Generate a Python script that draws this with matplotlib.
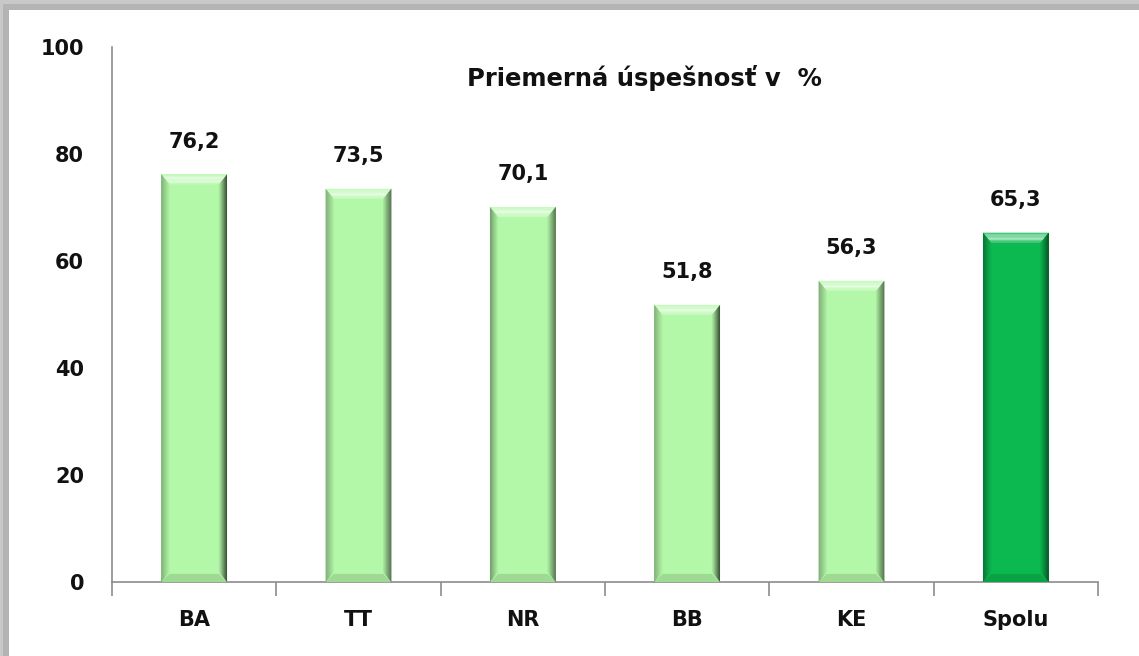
import matplotlib
matplotlib.use('Agg')
import matplotlib.pyplot as plt
from matplotlib.patches import Polygon, Rectangle
import numpy as np

plt.rcParams['font.family'] = ['DejaVu Sans']

# data
categories = ['BA', 'TT', 'NR', 'BB', 'KE', 'Spolu']
values = [76.2, 73.5, 70.1, 51.8, 56.3, 65.3]
labels = ['76,2', '73,5', '70,1', '51,8', '56,3', '65,3']
title = 'Priemerná úspešnosť v  %'

light = '#b3f8a8'
dark = '#0cb850'
colors = [light] * 5 + [dark]


def shade(c, f):
    rgb = np.array(matplotlib.colors.to_rgb(c))
    if f < 0:
        return tuple(rgb * (1 + f))
    return tuple(rgb + (1 - rgb) * f)


fig = plt.figure(figsize=(11.39, 6.56), dpi=100)
fig.patch.set_facecolor('white')

# grey frame on top and left
fig.add_artist(Rectangle((0, 1 - 10 / 656), 1, 10 / 656, transform=fig.transFigure,
                         facecolor='#b4b4b4', edgecolor='none'))
fig.add_artist(Rectangle((0, 0), 9 / 1139, 1, transform=fig.transFigure,
                         facecolor='#b4b4b4', edgecolor='none'))
fig.add_artist(Rectangle((0, 1 - 4 / 656), 1, 4 / 656, transform=fig.transFigure,
                         facecolor='#c8c8c8', edgecolor='none'))
fig.add_artist(Rectangle((0, 0), 3 / 1139, 1, transform=fig.transFigure,
                         facecolor='#c8c8c8', edgecolor='none'))

ax = fig.add_axes([112 / 1139, 1 - 582 / 656, 986 / 1139, 535 / 656])
x = np.arange(len(categories))
width = 0.4
bars = ax.bar(x, values, width=width, color=colors, edgecolor='none', zorder=2)

# bevel effect
bx = 0.05   # horizontal bevel in category units
by = 1.9    # vertical bevel in value units
n = 8
for b, c in zip(bars, colors):
    x0 = b.get_x()
    x1 = x0 + b.get_width()
    h = b.get_height()
    # top face, lighter towards the middle
    for i in range(n):
        t0, t1 = i / n, (i + 1) / n
        f = 0.15 + 0.5 * np.sin(np.pi * (i + 0.5) / n)
        ax.add_patch(Polygon([(x0 + bx * t0, h - by * t0), (x1 - bx * t0, h - by * t0),
                              (x1 - bx * t1, h - by * t1), (x0 + bx * t1, h - by * t1)],
                             closed=True, facecolor=shade(c, f), edgecolor='none', zorder=3))
    # bottom face slightly darker
    ax.add_patch(Polygon([(x0, 0), (x1, 0), (x1 - bx, by * 0.8), (x0 + bx, by * 0.8)],
                         closed=True, facecolor=shade(c, -0.12), edgecolor='none', zorder=3))
    # left and right edges as gradients
    for i in range(n):
        t = 1 - i / n
        w = bx / n
        ax.add_patch(Polygon([(x0 + i * w, i * by / n), (x0 + (i + 1) * w, (i + 1) * by / n),
                              (x0 + (i + 1) * w, h - (i + 1) * by / n), (x0 + i * w, h - i * by / n)],
                             closed=True, facecolor=shade(c, -0.35 * t), edgecolor='none', zorder=3))
        ax.add_patch(Polygon([(x1 - i * w, i * by / n), (x1 - (i + 1) * w, (i + 1) * by / n),
                              (x1 - (i + 1) * w, h - (i + 1) * by / n), (x1 - i * w, h - i * by / n)],
                             closed=True, facecolor=shade(c, -0.65 * t), edgecolor='none', zorder=3))

for xi, v, lab in zip(x, values, labels):
    ax.text(xi, v + 5.0, lab, ha='center', va='baseline', fontsize=15,
            fontweight='bold', color='#111111')

ax.set_xlim(-0.5, len(categories) - 0.5)
ax.set_ylim(0, 100)
ax.set_yticks(range(0, 101, 20))
ax.set_xticks(x)
ax.set_xticklabels(categories)
ax.set_xticks(np.arange(-0.5, len(categories), 1), minor=True)
ax.tick_params(axis='x', which='major', length=0, pad=20, labelsize=15)
ax.tick_params(axis='x', which='minor', length=10, width=1.2, color='#8c8c8c')
ax.tick_params(axis='y', length=0, pad=20, labelsize=15)
for lab in ax.get_xticklabels() + ax.get_yticklabels():
    lab.set_fontweight('bold')
    lab.set_color('#111111')

for s in ['top', 'right']:
    ax.spines[s].set_visible(False)
for s in ['left', 'bottom']:
    ax.spines[s].set_color('#8c8c8c')
    ax.spines[s].set_linewidth(1.2)

ax.text(0.54, 0.942, title, transform=ax.transAxes, ha='center', va='center',
        fontsize=17.5, fontweight='bold', color='#111111')

fig.savefig('out.png', dpi=100)
